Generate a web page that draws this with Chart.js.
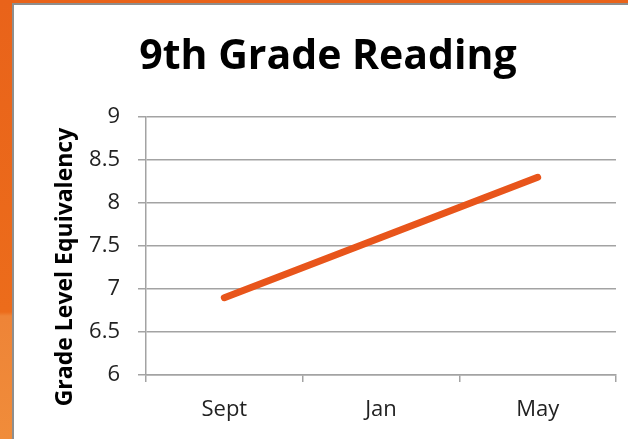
<!DOCTYPE html>
<html>
<head>
<meta charset="utf-8">
<script src="https://cdn.jsdelivr.net/npm/chart.js@4"></script>
<style>
  html, body { margin: 0; padding: 0; }
  body {
    width: 628px;
    height: 439px;
    overflow: hidden;
    position: relative;
    background: linear-gradient(to bottom, #e9631a 0px, #ec6c1b 312px, #ee8437 316px, #f08c3a 439px);
  }
  .frame {
    position: absolute;
    left: 12px;
    top: 3px;
    width: 616px;
    height: 436px;
    border-left: 2px solid #8e8e8e;
    border-top: 2px solid #8e8e8e;
    background: #fff;
    box-sizing: border-box;
  }
  #chartBox { width: 614px; height: 434px; }
</style>
</head>
<body>
<div class="frame">
  <div id="chartBox"><canvas id="readingChart"></canvas></div>
</div>
<script>
  const months = ["Sept", "Jan", "May"];
  const gradeLevels = [6.9, 7.6, 8.3];
  const yTicks = [6, 6.5, 7, 7.5, 8, 8.5, 9];

  const chartTitle = "9th Grade Reading";
  const yTitle = "Grade Level Equivalency";

  const axisGray = "#a3a3a3";
  const fontFamily = "'Open Sans', 'DejaVu Sans', sans-serif";

  new Chart(document.getElementById("readingChart"), {
    type: "line",
    data: {
      labels: months,
      datasets: [
        {
          label: "Grade level",
          data: gradeLevels,
          borderColor: "#e8551b",
          borderWidth: 7,
          borderCapStyle: "round",
          pointRadius: 0,
          tension: 0,
        },
      ],
    },
    options: {
      responsive: true,
      maintainAspectRatio: false,
      animation: false,
      layout: { padding: { left: 26, right: 12, top: 0, bottom: 0 } },
      plugins: {
        legend: { display: false },
        tooltip: { enabled: false },
        title: {
          display: true,
          text: chartTitle,
          color: "#000",
          font: { family: fontFamily, size: 41, weight: "bold", lineHeight: 1.2 },
          padding: { top: 28, bottom: 35 },
        },
      },
      scales: {
        x: {
          offset: true,
          grid: {
            display: true,
            offset: true,
            drawOnChartArea: false,
            color: axisGray,
            lineWidth: 1.5,
            tickLength: 7,
          },
          border: { color: axisGray, width: 1.5 },
          ticks: {
            color: "#222",
            padding: 15,
            font: { family: fontFamily, size: 22 },
          },
          afterFit: (scale) => {
            scale.height = 64;
          },
        },
        y: {
          min: 6,
          max: 9,
          afterBuildTicks: (scale) => {
            scale.ticks = yTicks.map((value) => ({ value }));
          },
          grid: {
            color: axisGray,
            lineWidth: 1.5,
            tickLength: 8,
          },
          border: { color: axisGray, width: 1.5 },
          ticks: {
            color: "#222",
            padding: 18,
            font: { family: fontFamily, size: 22 },
            callback: (value) => String(value),
          },
          title: {
            display: true,
            text: yTitle + "       ",
            color: "#000",
            font: { family: fontFamily, size: 23, weight: "bold", lineHeight: 1.2 },
            padding: { top: 12, bottom: 0 },
          },
          afterFit: (scale) => {
            scale.width = 106;
          },
        },
      },
    },
  });
</script>
</body>
</html>
